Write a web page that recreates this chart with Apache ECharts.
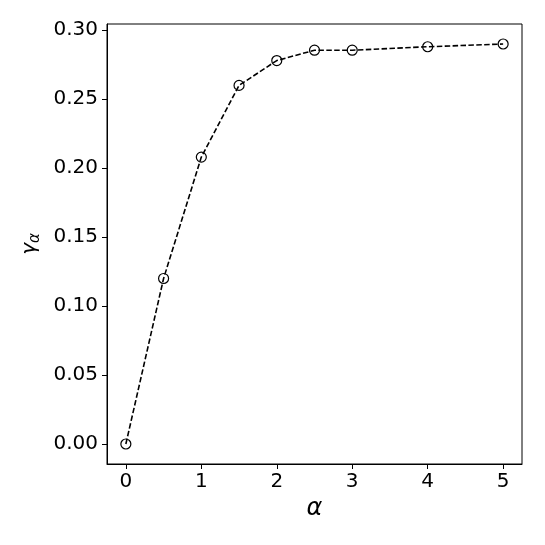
<!DOCTYPE html>
<html>
<head>
<meta charset="utf-8">
<script src="https://cdn.jsdelivr.net/npm/echarts@6/dist/echarts.min.js"></script>
<style>html,body{margin:0;padding:0;background:#fff}#c{width:545px;height:545px}</style>
</head>
<body>
<div id="c"></div>
<script>
var alphaValues = [0, 0.5, 1, 1.5, 2, 2.5, 3, 4, 5];
var gammaValues = [0, 0.12, 0.208, 0.26, 0.278, 0.2855, 0.2855, 0.288, 0.29];
var xTicks = [0, 1, 2, 3, 4, 5];
var yTicks = [0, 0.05, 0.10, 0.15, 0.20, 0.25, 0.30];

var chart = echarts.init(document.getElementById('c'));
var font = 'DejaVu Sans';
chart.setOption({
  animation: false,
  backgroundColor: '#fff',
  grid: {left: 107, right: 23, top: 24, bottom: 81, show: true, borderColor: '#000', borderWidth: 1},
  xAxis: {
    type: 'value', min: -0.25, max: 5.25,
    name: 'α', nameLocation: 'middle', nameGap: 30,
    nameTextStyle: {fontFamily: font, fontStyle: 'italic', fontSize: 24, color: '#000'},
    axisLine: {show: true, onZero: false, lineStyle: {color: '#000', width: 1}},
    axisTick: {show: true, length: 5, lineStyle: {color: '#000'}, customValues: xTicks},
    axisLabel: {customValues: xTicks, fontFamily: font, fontSize: 20, color: '#000', margin: 8},
    splitLine: {show: false}
  },
  yAxis: {
    type: 'value', min: -0.0145, max: 0.3045,
    name: '{g|γ}{s|α}', nameLocation: 'middle', nameGap: 58, nameRotate: 90,
    nameTextStyle: {color: '#000', rich: {
      g: {fontFamily: font, fontStyle: 'italic', fontSize: 20, color: '#000', verticalAlign: 'top'},
      s: {fontFamily: font, fontStyle: 'italic', fontSize: 15, color: '#000', verticalAlign: 'bottom', padding: [8, 0, 0, 0]}
    }},
    axisLine: {show: true, onZero: false, lineStyle: {color: '#000', width: 1}},
    axisTick: {show: true, length: 5, lineStyle: {color: '#000'}, customValues: yTicks},
    axisLabel: {customValues: yTicks, fontFamily: font, fontSize: 20, color: '#000', margin: 9,
      formatter: function (v) { return v.toFixed(2); }},
    splitLine: {show: false}
  },
  series: [{
    type: 'line',
    data: alphaValues.map(function (a, i) { return [a, gammaValues[i]]; }),
    lineStyle: {color: '#000', width: 1.6, type: [5.5, 2.4]},
    symbol: 'circle', symbolSize: 10,
    itemStyle: {color: 'rgba(0,0,0,0)', borderColor: '#000', borderWidth: 1.2},
    z: 3
  }]
});
</script>
</body>
</html>
